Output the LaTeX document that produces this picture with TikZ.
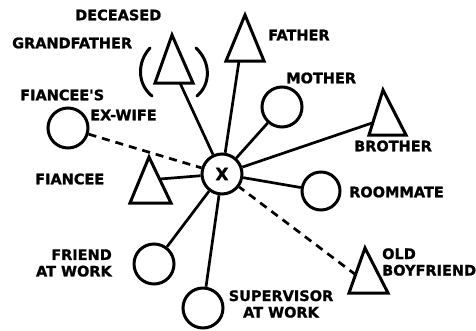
\documentclass[tikz,border=0pt]{standalone}
\usepackage{fontspec}
\newfontfamily\hand{DejaVu Sans}[BoldFeatures={FakeBold=1.2}]
\begin{document}
\begin{tikzpicture}[x=1pt,y=-1pt,
  lbl/.style={font=\hand\bfseries\fontsize{14.5}{16.5}\selectfont,inner sep=0pt},
  pcircle/.style={circle,draw,line width=3pt,minimum size=40pt,inner sep=0pt},
  tri/.style={draw,line width=3pt,line join=miter},
  link/.style={line width=2.7pt},
  dlink/.style={line width=2.7pt,dash pattern=on 8pt off 6pt}]
\useasboundingbox (0,0) rectangle (476,330);
% ego
\node[pcircle,font=\hand\bfseries\fontsize{17}{17}\selectfont] (x) at (222,174) {X};
% circles
\node[pcircle] (mother) at (282,107) {};
\node[pcircle,minimum size=38pt] (room) at (321,191) {};
\node[pcircle] (exwife) at (68,128) {};
\node[pcircle] (friend) at (154,264) {};
\node[pcircle] (super) at (203,308) {};
% triangles
\draw[tri] (172,35) -- (193,83) -- (155,83) -- cycle;
\coordinate (gf) at (180,83);
\draw[tri] (245,15) -- (264,61) -- (226,61) -- cycle;
\coordinate (fa) at (239,61);
\draw[tri] (383,90) -- (406,135) -- (369,135) -- cycle;
\coordinate (br) at (372,123);
\draw[tri] (149,157) -- (171,203) -- (130,203) -- cycle;
\coordinate (fi) at (160,179);
\draw[tri] (365,248) -- (388,293) -- (349,293) -- cycle;
\coordinate (ob) at (356,275);
% parentheses around grandfather
\draw[line width=3pt,line cap=round] (150,48) .. controls (137,62) and (137,84) .. (152,96);
\draw[line width=3pt,line cap=round] (196,48) .. controls (211,62) and (211,84) .. (197,96);
% connectors
\draw[link] (gf) -- (x);
\draw[link] (fa) -- (x);
\draw[link] (mother) -- (x);
\draw[link] (br) -- (x);
\draw[link] (room) -- (x);
\draw[link] (fi) -- (x);
\draw[link] (friend) -- (x);
\draw[link] (super) -- (x);
\draw[dlink] (exwife) -- (x);
\draw[dlink] (ob) -- (x);
% labels
\node[lbl,anchor=west] (l1) at (75,15) {DECEASED};
\node[lbl,anchor=west] (l2) at (12,43) {GRANDFATHER};
\node[lbl,anchor=west] (l3) at (268,35) {FATHER};
\node[lbl,anchor=west] (l4) at (286,78) {MOTHER};
\node[lbl,anchor=west] (l5) at (20,95) {FIANCEE'S};
\node[lbl,anchor=west] (l6) at (90,115) {EX-WIFE};
\node[lbl,anchor=west] (l7) at (354,146) {BROTHER};
\node[lbl,anchor=west] (l8) at (35,179) {FIANCEE};
\node[lbl,anchor=west] (l9) at (349,192) {ROOMMATE};
\node[lbl,anchor=east,align=right] (l10) at (112,263) {FRIEND\\AT WORK};
\node[lbl,anchor=west,align=left] (l11) at (382,262) {OLD\\BOYFRIEND};
\node[lbl,align=center] (l12) at (281,304) {SUPERVISOR\\AT WORK};
\end{tikzpicture}
\end{document}
